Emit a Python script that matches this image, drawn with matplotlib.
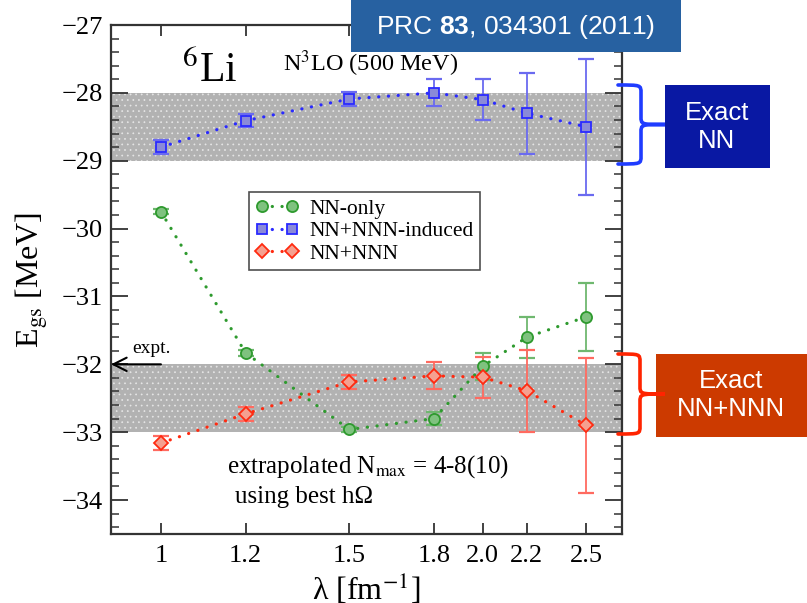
import matplotlib
matplotlib.use("Agg")
import matplotlib.pyplot as plt
import numpy as np
from matplotlib.path import Path
from matplotlib.patches import PathPatch, Rectangle
from matplotlib.transforms import Affine2D
from matplotlib.ticker import FixedLocator, MultipleLocator, NullLocator

plt.rcParams['font.family'] = ['Liberation Serif', 'DejaVu Serif']
plt.rcParams['mathtext.fontset'] = 'custom'
plt.rcParams['mathtext.rm'] = 'Liberation Sans'
plt.rcParams['mathtext.bf'] = 'Liberation Sans:bold'
plt.rcParams['hatch.linewidth'] = 0.5

# lambda values (fm^-1)
lam = [1.0, 1.2, 1.5, 1.8, 2.0, 2.2, 2.5]
lam_labels = ["1", "1.2", "1.5", "1.8", "2.0", "2.2", "2.5"]

# ground state energies (MeV)
e_nn = [-29.75, -31.83, -32.96, -32.80, -32.03, -31.60, -31.30]
err_nn = [0.04, 0.04, 0.04, 0.10, 0.20, 0.30, 0.50]
e_ind = [-28.80, -28.41, -28.09, -28.00, -28.10, -28.30, -28.50]
err_ind = [0.10, 0.10, 0.10, 0.20, 0.30, 0.60, 1.00]
e_3n = [-33.16, -32.73, -32.26, -32.17, -32.19, -32.39, -32.90]
err_3n = [0.10, 0.10, 0.10, 0.20, 0.30, 0.60, 1.00]

band_nn = (-29.0, -28.0)
band_3n = (-33.0, -32.0)
e_expt = -32.0

fig = plt.figure(figsize=(8.07, 6.03), dpi=100)
ax = fig.add_axes([111/807, 1 - 534/603, 511/807, 509/603])
pix = Affine2D().scale(1/807, -1/603).translate(0, 1) + fig.transFigure

for b in (band_nn, band_3n):
    ax.axhspan(b[0], b[1], facecolor='#b2b2b2', edgecolor='#e6e6e6',
               hatch='...', linewidth=0, zorder=0)

series = [
    (e_nn, err_nn, 'o', '#2e9a2e', '#7fc27f', '#6fb86f', 'NN-only', 8),
    (e_ind, err_ind, 's', '#2a2aff', '#8a8ad8', '#6a6af0', 'NN+NNN-induced', 7),
    (e_3n, err_3n, 'D', '#ff2a10', '#f5a090', '#ff6a60', 'NN+NNN', 7),
]
for y, err, mk, col, face, ecol, lab, ms in series:
    ax.errorbar(lam, y, yerr=err, fmt='none', ecolor=ecol, elinewidth=1.3,
                capsize=6, capthick=1.6, zorder=2)
    ax.plot(lam, y, linestyle=(0, (0.05, 3.0)), dash_capstyle='round',
            linewidth=2.3, color=col, marker=mk,
            markersize=ms, markerfacecolor=face, markeredgecolor=col,
            markeredgewidth=1.3, label=lab, zorder=3)

ax.set_xscale('log')
ax.set_xlim(0.898, 2.70)
ax.set_ylim(-34.5, -27.0)
ax.xaxis.set_major_locator(FixedLocator(lam))
ax.xaxis.set_minor_locator(NullLocator())
ax.set_xticklabels(lam_labels)
ax.yaxis.set_major_locator(MultipleLocator(1))
ax.yaxis.set_minor_locator(MultipleLocator(0.2))
ax.yaxis.set_major_formatter(plt.FuncFormatter(lambda v, p: "\u2212%d" % abs(v)))

ax.tick_params(axis='both', which='both', direction='in', top=True, right=True,
               colors='#333333', labelcolor='black', labelsize=19)
ax.tick_params(axis='x', which='major', length=8, width=1.3, pad=8)
ax.tick_params(axis='y', which='major', length=12, width=1.3, pad=6)
ax.tick_params(axis='y', which='minor', length=6, width=1.1)
for s in ax.spines.values():
    s.set_color('#333333')
    s.set_linewidth(1.6)

ax.set_ylabel(r"E$_{\rm gs}$ [MeV]", fontsize=23, labelpad=8, math_fontfamily='stix')
ax.set_xlabel(r"λ [fm$^{-1}$]", fontsize=23, labelpad=3, math_fontfamily='stix')

leg = ax.legend(loc='upper left', bbox_to_anchor=(249/807, 1 - 192/603),
                bbox_transform=fig.transFigure, numpoints=2, fontsize=15.5,
                frameon=True, fancybox=False, handlelength=2.0,
                borderpad=0.3, labelspacing=0.12, handletextpad=0.5,
                borderaxespad=0)
leg.get_frame().set_edgecolor('#222222')
leg.get_frame().set_linewidth(1.2)

# experimental value arrow
ax.annotate("", xy=(0.898, e_expt), xytext=(1.0, e_expt),
            arrowprops=dict(arrowstyle='->', color='black', lw=1.5,
                            mutation_scale=24, shrinkA=0, shrinkB=0))
fig.text(132, 353, "expt.", transform=pix, fontsize=14, va='baseline')

fig.text(182, 82, r"$^{6}$Li", transform=pix, fontsize=30, va='baseline',
         math_fontfamily='stix')
fig.text(283, 71, r"N$^{3}$LO (500 MeV)", transform=pix, fontsize=17.5,
         va='baseline', math_fontfamily='stix')
fig.text(227, 473, r"extrapolated N$_{\rm max}$ = 4-8(10)", transform=pix,
         fontsize=18, va='baseline', math_fontfamily='stix')
fig.text(235, 503, "using best hΩ", transform=pix, fontsize=18,
         va='baseline')

# annotation boxes
fig.add_artist(Rectangle((351, 0), 330, 52, transform=pix,
                         facecolor='#2761a1', edgecolor='none'))
fig.text(516, 27, r"PRC $\mathbf{83}$, 034301 (2011)", transform=pix,
         fontsize=19, color='white', ha='center', va='center',
         family='Liberation Sans', math_fontfamily='custom')

fig.add_artist(Rectangle((665, 85), 105, 83, transform=pix,
                         facecolor='#0918a3', edgecolor='none'))
fig.text(717, 127, "Exact\nNN", transform=pix, fontsize=18.5, color='white',
         ha='center', va='center', family='Liberation Sans', linespacing=1.2)

fig.add_artist(Rectangle((656, 354), 160, 83, transform=pix,
                         facecolor='#cc3a00', edgecolor='none'))
fig.text(731, 395, "Exact\nNN+NNN", transform=pix, fontsize=18.5,
         color='white', ha='center', va='center', family='Liberation Sans',
         linespacing=1.2)


def brace(x0, yt, yb, xm, xt, color):
    ym = (yt + yb) / 2
    r = 8
    verts = [(x0, yt), (xm, yt), (xm, yt), (xm, yt + r), (xm, ym - r),
             (xm, ym), (xm, ym), (xt, ym),
             (xm, ym), (xm, ym), (xm, ym + r), (xm, yb - r),
             (xm, yb), (xm, yb), (x0, yb)]
    codes = [Path.MOVETO, Path.CURVE4, Path.CURVE4, Path.CURVE4, Path.LINETO,
             Path.CURVE4, Path.CURVE4, Path.CURVE4,
             Path.CURVE4, Path.CURVE4, Path.CURVE4, Path.LINETO,
             Path.CURVE4, Path.CURVE4, Path.CURVE4]
    fig.add_artist(PathPatch(Path(verts, codes), transform=pix, facecolor='none',
                             edgecolor=color, linewidth=2.6, capstyle='round'))


brace(618, 85, 164, 641, 665, '#1f3cff')
brace(618, 354, 434, 640, 665, '#ff2400')

fig.savefig("out.png", dpi=100)
